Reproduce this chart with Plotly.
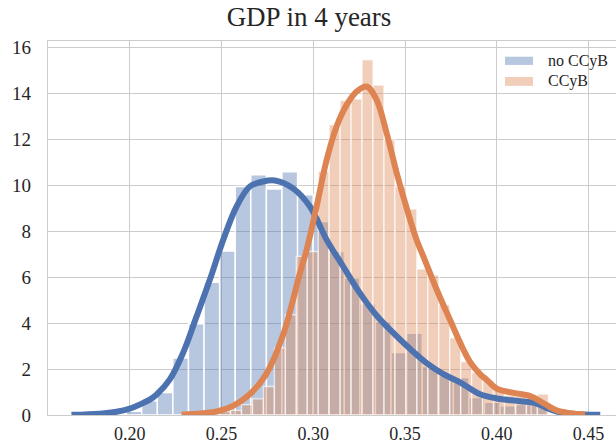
import plotly.graph_objects as go

# ---------------- data ----------------
blue_name = "no CCyB"
blue_bin_start = 0.1980
blue_bin_width = 0.008493
blue_density = [0.16, 0.62, 0.98, 2.48, 3.97, 5.77, 7.13, 9.94, 10.45, 9.83,
                10.58, 9.58, 8.42, 7.11, 5.96, 4.84, 4.05, 2.72, 3.55, 2.11,
                1.72, 1.63, 0.76, 0.55, 0.40, 0.45, 0.42]

orange_name = "CCyB"
orange_bin_start = 0.24893
orange_bin_width = 0.005973
orange_density = [0.15, 0.20, 0.45, 0.70, 1.24, 2.91, 4.36, 6.90, 7.11, 10.60,
                  12.62, 13.68, 13.75, 15.45, 14.35, 11.97, 9.94, 8.96, 6.35, 6.09,
                  4.80, 3.36, 2.33, 1.85, 1.50, 1.13, 0.85, 0.80, 0.85, 0.91]

blue_kde_x = [0.1682, 0.1836, 0.1927, 0.2000, 0.2072, 0.2109, 0.2145, 0.2218, 0.2290,
              0.2364, 0.2436, 0.2509, 0.2582, 0.2654, 0.2727, 0.2791, 0.2891, 0.2982,
              0.3073, 0.3163, 0.3254, 0.3345, 0.3436, 0.3527, 0.3618, 0.3709, 0.3800,
              0.3909, 0.4000, 0.4127, 0.4218, 0.4273, 0.4327, 0.4400, 0.4564]
blue_kde_y = [0.01, 0.06, 0.14, 0.28, 0.52, 0.67, 0.88, 1.55, 2.70,
              4.29, 5.88, 7.62, 9.07, 9.94, 10.16, 10.20, 9.85, 9.07,
              7.62, 6.46, 5.30, 4.33, 3.57, 2.88, 2.26, 1.78, 1.42,
              0.90, 0.72, 0.60, 0.50, 0.30, 0.15, 0.06, 0.01]

orange_kde_x = [0.2282, 0.2473, 0.2563, 0.2654, 0.2745, 0.2836, 0.2927, 0.2964, 0.3018,
                0.3073, 0.3127, 0.3182, 0.3236, 0.3291, 0.3345, 0.3400, 0.3455, 0.3509,
                0.3564, 0.3600, 0.3673, 0.3745, 0.3818, 0.3855, 0.3909, 0.3945, 0.4000,
                0.4091, 0.4182, 0.4254, 0.4327, 0.4400, 0.4482]
orange_kde_y = [0.01, 0.15, 0.40, 0.90, 1.80, 3.50, 6.17, 7.19, 9.07,
                11.10, 12.55, 13.49, 14.07, 14.29, 13.71, 12.26, 10.52, 9.00,
                7.60, 6.90, 5.45, 4.14, 2.85, 2.30, 1.78, 1.53, 1.15,
                0.96, 0.82, 0.52, 0.20, 0.08, 0.02]

title_text = "GDP in 4 years"
x_tick_vals = [0.20, 0.25, 0.30, 0.35, 0.40, 0.45]
x_tick_text = ["0.20", "0.25", "0.30", "0.35", "0.40", "0.45"]
y_tick_vals = [0, 2, 4, 6, 8, 10, 12, 14, 16]

# ---------------- styling ----------------
BLUE = "#4C72B0"
ORANGE = "#DD8452"
BLUE_FILL = "rgba(76,114,176,0.4)"
ORANGE_FILL = "rgba(221,132,82,0.4)"
GRID = "#cccccc"
TEXT = "#262626"
FONT = "Liberation Serif"

blue_centers = [blue_bin_start + blue_bin_width * (i + 0.5) for i in range(len(blue_density))]
orange_centers = [orange_bin_start + orange_bin_width * (i + 0.5) for i in range(len(orange_density))]

fig = go.Figure()
fig.add_trace(go.Bar(x=blue_centers, y=blue_density, width=blue_bin_width,
                     marker=dict(color=BLUE_FILL, line=dict(color="white", width=1.4)),
                     name=blue_name, showlegend=False))
fig.add_trace(go.Bar(x=orange_centers, y=orange_density, width=orange_bin_width,
                     marker=dict(color=ORANGE_FILL, line=dict(color="rgba(255,255,255,0.65)", width=1.4)),
                     name=orange_name, showlegend=False))
fig.add_trace(go.Scatter(x=blue_kde_x, y=blue_kde_y, mode="lines",
                         line=dict(color=BLUE, width=6, shape="spline", smoothing=1.0),
                         showlegend=False, hoverinfo="skip"))
fig.add_trace(go.Scatter(x=orange_kde_x, y=orange_kde_y, mode="lines",
                         line=dict(color=ORANGE, width=6, shape="spline", smoothing=1.0),
                         showlegend=False, hoverinfo="skip"))

# legend drawn manually (wide flat patches like matplotlib)
legend_items = [(blue_name, BLUE_FILL, 0.958, 0.936), (orange_name, ORANGE_FILL, 0.904, 0.880)]
for name, col, y1, y0 in legend_items:
    fig.add_shape(type="rect", xref="paper", yref="paper", x0=0.8046, x1=0.8539, y0=y0, y1=y1,
                  fillcolor=col, line=dict(width=0), layer="above")
    fig.add_annotation(xref="paper", yref="paper", x=0.876, y=(y0 + y1) / 2, text=name,
                       showarrow=False, xanchor="left", yanchor="middle",
                       font=dict(family=FONT, size=16, color=TEXT))

fig.update_layout(
    width=616, height=443,
    margin=dict(l=48, r=0, t=41, b=28, autoexpand=False),
    paper_bgcolor="white", plot_bgcolor="white",
    barmode="overlay",
    title=dict(text=title_text, x=309 / 616, xref="container", xanchor="center",
               y=1 - 17 / 443, yref="container", yanchor="middle",
               font=dict(family=FONT, size=27, color=TEXT)),
    font=dict(family=FONT, color=TEXT),
)
fig.update_xaxes(range=[0.1554, 0.465], tickvals=x_tick_vals, ticktext=x_tick_text,
                 showgrid=True, gridcolor=GRID, gridwidth=1.2, zeroline=False,
                 showline=True, linecolor=GRID, linewidth=1.2, mirror=True,
                 ticks="", ticklabelstandoff=2, automargin=False,
                 tickfont=dict(family=FONT, size=18, color=TEXT))
fig.update_yaxes(range=[0, 16.27], tickvals=y_tick_vals,
                 showgrid=True, gridcolor=GRID, gridwidth=1.2, zeroline=False,
                 showline=True, linecolor=GRID, linewidth=1.2, mirror=False,
                 ticks="", ticklabelstandoff=12, automargin=False,
                 tickfont=dict(family=FONT, size=19, color=TEXT))

fig.write_html("out.html")
